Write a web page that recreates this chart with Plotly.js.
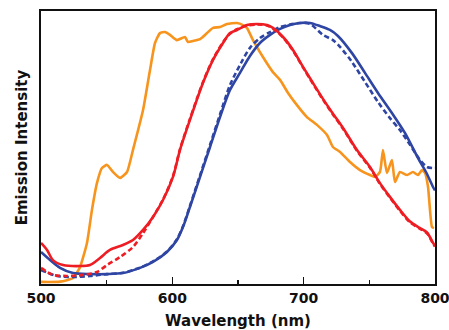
<!DOCTYPE html>
<html>
<head>
<meta charset="utf-8">
<script src="https://cdn.plot.ly/plotly-3.0.1.min.js"></script>
<style>
html,body{margin:0;padding:0;background:#fff;}
#chart{width:449px;height:330px;}
</style>
</head>
<body>
<div id="chart"></div>
<script>
// Orange spectrum
const orangeWl = [500, 514.5, 524.4, 529.7, 535.0, 538.8, 542.6, 546.4, 550.3, 554.8, 560.2, 565.5, 570.0, 577.7, 583.0, 586.8, 590.6, 594.4, 598.2, 603.5, 609.6, 611.9, 615.7, 621.1, 626.4, 631.0, 636.3, 641.6, 649.2, 653.8, 656.8, 661.4, 669.0, 676.6, 682.0, 688.1, 694.9, 702.5, 710.1, 717.8, 722.3, 727.7, 735.3, 742.9, 750.5, 754.3, 758.1, 760.4, 763.4, 767.2, 769.5, 773.3, 778.7, 783.2, 787.0, 790.1, 792.4, 794.7, 797.7, 799.2];
const orangeI = [0.008, 0.009, 0.023, 0.065, 0.158, 0.285, 0.388, 0.446, 0.458, 0.431, 0.408, 0.431, 0.515, 0.669, 0.823, 0.927, 0.965, 0.969, 0.958, 0.938, 0.950, 0.931, 0.935, 0.942, 0.965, 0.985, 0.988, 1.0, 1.004, 0.996, 0.985, 0.938, 0.873, 0.815, 0.785, 0.735, 0.688, 0.642, 0.612, 0.573, 0.527, 0.508, 0.469, 0.438, 0.419, 0.412, 0.431, 0.515, 0.427, 0.477, 0.392, 0.431, 0.419, 0.431, 0.419, 0.438, 0.427, 0.373, 0.219, 0.215];

// Red spectrum (solid)
const redWl = [500, 504.6, 509.1, 516.8, 529.7, 537.3, 544.9, 552.5, 562.4, 570.0, 577.7, 585.3, 592.9, 600.5, 605.8, 613.4, 623.3, 631.0, 638.6, 643.9, 649.2, 656.8, 664.5, 672.1, 676.6, 684.3, 691.9, 699.5, 707.1, 714.7, 722.3, 730.0, 740.6, 750.5, 758.1, 765.7, 773.3, 781.0, 788.6, 793.9, 798.5, 800];
const redI = [0.158, 0.131, 0.092, 0.073, 0.069, 0.073, 0.100, 0.131, 0.150, 0.169, 0.208, 0.258, 0.323, 0.412, 0.515, 0.631, 0.773, 0.862, 0.927, 0.965, 0.977, 0.996, 1.0, 0.996, 0.985, 0.950, 0.900, 0.835, 0.773, 0.712, 0.655, 0.600, 0.515, 0.450, 0.388, 0.335, 0.285, 0.240, 0.215, 0.198, 0.158, 0.146];

// Red spectrum (dashed)
const redDashWl = [500, 509.1, 519.8, 532.0, 542.6, 550.3, 560.2, 570.0, 577.7, 585.3, 592.9, 600.5, 605.8, 613.4, 623.3, 631.0, 638.6, 643.9, 649.2, 656.8, 664.5, 672.1, 676.6, 684.3, 691.9, 699.5, 707.1, 714.7, 722.3, 730.0, 740.6, 750.5, 758.1, 765.7, 773.3, 781.0, 788.6, 793.9, 798.5, 800];
const redDashI = [0.062, 0.035, 0.031, 0.035, 0.046, 0.073, 0.104, 0.142, 0.196, 0.258, 0.325, 0.415, 0.518, 0.635, 0.776, 0.865, 0.930, 0.962, 0.980, 0.994, 0.998, 0.994, 0.982, 0.948, 0.897, 0.833, 0.770, 0.709, 0.652, 0.597, 0.512, 0.447, 0.385, 0.332, 0.282, 0.237, 0.212, 0.195, 0.156, 0.144];

// Blue spectrum (solid)
const blueWl = [500, 506.9, 514.5, 524.4, 537.3, 550.3, 562.4, 575.4, 585.3, 595.9, 603.5, 608.1, 613.4, 621.1, 628.7, 636.3, 643.9, 651.5, 659.1, 666.7, 674.4, 682.0, 689.6, 697.2, 704.8, 712.4, 720.0, 726.1, 736.8, 746.7, 756.6, 767.2, 777.1, 787.0, 793.9, 798.5, 800];
const blueI = [0.123, 0.092, 0.062, 0.042, 0.038, 0.038, 0.042, 0.062, 0.085, 0.123, 0.169, 0.219, 0.296, 0.412, 0.527, 0.642, 0.746, 0.812, 0.877, 0.927, 0.958, 0.981, 0.996, 1.004, 1.004, 0.992, 0.977, 0.954, 0.888, 0.812, 0.735, 0.658, 0.581, 0.485, 0.423, 0.373, 0.360];

// Blue spectrum (dashed)
const blueDashWl = [500, 512.2, 524.4, 537.3, 550.3, 562.4, 575.4, 585.3, 595.9, 603.5, 608.1, 613.4, 621.1, 628.7, 636.3, 643.9, 652.3, 659.1, 666.7, 674.4, 682.0, 689.6, 697.2, 704.8, 714.7, 722.3, 727.7, 736.8, 746.7, 756.6, 765.7, 773.3, 781.0, 788.6, 793.9, 798.5, 800];
const blueDashI = [0.054, 0.031, 0.027, 0.031, 0.038, 0.043, 0.063, 0.087, 0.125, 0.172, 0.222, 0.300, 0.418, 0.535, 0.652, 0.765, 0.850, 0.908, 0.946, 0.969, 0.988, 0.998, 1.004, 1.0, 0.958, 0.938, 0.912, 0.854, 0.777, 0.700, 0.638, 0.592, 0.535, 0.477, 0.450, 0.446, 0.446];

const xTickVals = [500, 600, 700, 800];
const xTickText = ['500', '600', '700', '800'];

const ORANGE = '#f7941d';
const RED = '#ee1d23';
const BLUE = '#2e45a3';
const LW = 2.6;

const traces = [
  {x: orangeWl, y: orangeI, type: 'scatter', mode: 'lines', line: {color: ORANGE, width: LW, shape: 'spline', smoothing: 0.5}},
  {x: blueDashWl, y: blueDashI, type: 'scatter', mode: 'lines', line: {color: BLUE, width: LW, dash: '5px,3px', shape: 'spline', smoothing: 0.8}},
  {x: blueWl, y: blueI, type: 'scatter', mode: 'lines', line: {color: BLUE, width: LW, shape: 'spline', smoothing: 0.8}},
  {x: redDashWl, y: redDashI, type: 'scatter', mode: 'lines', line: {color: RED, width: LW, dash: '5px,3px', shape: 'spline', smoothing: 0.8}},
  {x: redWl, y: redI, type: 'scatter', mode: 'lines', line: {color: RED, width: LW, shape: 'spline', smoothing: 0.8}}
];

const FAM = 'DejaVu Sans, Arial, sans-serif';

const layout = {
  width: 449, height: 330,
  margin: {l: 41, r: 14, t: 11, b: 46, pad: 0},
  paper_bgcolor: '#fff', plot_bgcolor: '#fff',
  showlegend: false,
  font: {family: FAM, color: '#111', weight: 700},
  xaxis: {
    range: [500, 800],
    tickmode: 'array', tickvals: xTickVals, ticktext: xTickText,
    ticks: 'inside', ticklen: 7, tickwidth: 1.5, tickcolor: '#111',
    ticklabeloverflow: 'allow',
    minor: {dtick: 50, tick0: 500, ticks: 'inside', ticklen: 4, tickwidth: 1.5, tickcolor: '#111', showgrid: false},
    showline: true, linecolor: '#111', linewidth: 2, mirror: true,
    showgrid: false, zeroline: false,
    tickfont: {family: FAM, size: 14, color: '#111', weight: 700},
    title: {text: 'Wavelength (nm)', font: {family: FAM, size: 15, color: '#111', weight: 700}, standoff: 11}
  },
  yaxis: {
    range: [0, 1.05],
    showticklabels: false, ticks: '',
    showline: true, linecolor: '#111', linewidth: 2, mirror: true,
    showgrid: false, zeroline: false,
    title: {text: 'Emission Intensity', font: {family: FAM, size: 15, color: '#111', weight: 700}, standoff: 8}
  }
};

Plotly.newPlot('chart', traces, layout, {displayModeBar: false, staticPlot: true});
</script>
</body>
</html>
